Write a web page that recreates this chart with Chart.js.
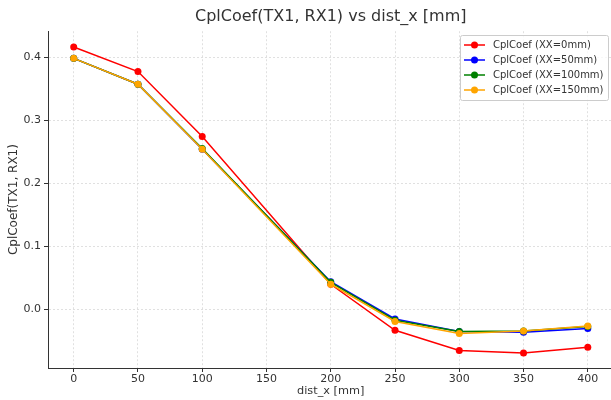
<!DOCTYPE html>
<html>
<head>
<meta charset="utf-8">
<script src="https://cdn.jsdelivr.net/npm/chart.js@4"></script>
<style>
    html, body {margin: 0; padding: 0; overflow: hidden; background: #fff;}
    #cplChart {display: block;}
</style>
</head>
<body>
<canvas id="cplChart" width="617" height="400" style="width:617px;height:400px"></canvas>
<script>
const distX = [0, 50, 100, 200, 250, 300, 350, 400]
const seriesLabels = ["CplCoef (XX=0mm)", "CplCoef (XX=50mm)", "CplCoef (XX=100mm)", "CplCoef (XX=150mm)"]
const xx0 = [0.416, 0.377, 0.274, 0.040, -0.033, -0.065, -0.069, -0.060]
const xx50 = [0.398, 0.357, 0.254, 0.044, -0.015, -0.035, -0.036, -0.030]
const xx100 = [0.398, 0.357, 0.255, 0.043, -0.017, -0.035, -0.034, -0.027]
const xx150 = [0.398, 0.357, 0.254, 0.040, -0.019, -0.038, -0.034, -0.026]
const xTicks = [0, 50, 100, 150, 200, 250, 300, 350, 400]
const yTicks = [0.0, 0.1, 0.2, 0.3, 0.4]
const colours = ["#ff0000", "#0000ff", "#008000", "#ffa500"]

const FONT = "'DejaVu Sans', sans-serif"

function toPoints(ys) {
    return distX.map((x, i) => ({x: x, y: ys[i]}))
}

function lineSet(label, col, data, order) {
    return {
        label: label,
        data: toPoints(data),
        borderColor: col,
        backgroundColor: col,
        borderWidth: 1.5,
        pointRadius: 3.5,
        pointHoverRadius: 3.5,
        pointBorderWidth: 0,
        tension: 0,
        order: order
    }
}

// matplotlib style legend box in the upper right of the plot
const boxLegend = {
    id: "boxLegend",
    afterDraw(chart) {
        const ctx = chart.ctx
        const sets = chart.data.datasets
        const x0 = 460, y0 = 35, w = 148, h = 65
        ctx.save()
        ctx.fillStyle = "rgba(255,255,255,0.8)"
        ctx.strokeStyle = "#cccccc"
        ctx.lineWidth = 1
        ctx.beginPath()
        ctx.roundRect(x0 + 0.5, y0 + 0.5, w, h, 2)
        ctx.fill()
        ctx.stroke()
        ctx.font = "10px " + FONT
        ctx.textBaseline = "middle"
        for (let i = 0; i < sets.length; i++) {
            const y = y0 + 10 + i * 15
            ctx.strokeStyle = sets[i].borderColor
            ctx.fillStyle = sets[i].borderColor
            ctx.lineWidth = 1.5
            ctx.beginPath()
            ctx.moveTo(x0 + 4, y)
            ctx.lineTo(x0 + 25, y)
            ctx.stroke()
            ctx.beginPath()
            ctx.arc(x0 + 14.5, y, 3.5, 0, Math.PI * 2)
            ctx.fill()
            ctx.fillStyle = "#333333"
            ctx.fillText(sets[i].label, x0 + 33, y)
        }
        ctx.restore()
    }
}

new Chart(document.getElementById("cplChart").getContext("2d"), {
    type: "line",
    data: {
        datasets: [
            lineSet(seriesLabels[0], colours[0], xx0, 3),
            lineSet(seriesLabels[1], colours[1], xx50, 2),
            lineSet(seriesLabels[2], colours[2], xx100, 1),
            lineSet(seriesLabels[3], colours[3], xx150, 0)
        ]
    },
    options: {
        responsive: false,
        maintainAspectRatio: false,
        animation: false,
        layout: {padding: 0},
        plugins: {
            legend: {display: false},
            tooltip: {enabled: false},
            title: {
                display: true,
                fullSize: false,
                text: "CplCoef(TX1, RX1) vs dist_x [mm]",
                color: "#333333",
                font: {family: FONT, size: 16, weight: "normal"},
                padding: {top: 7, bottom: 5}
            }
        },
        scales: {
            x: {
                type: "linear",
                min: -20,
                max: 420,
                afterBuildTicks: axis => { axis.ticks = xTicks.map(v => ({value: v})) },
                afterFit: axis => { axis.height = 32 },
                ticks: {color: "#333333", font: {family: FONT, size: 11}, padding: 1, maxRotation: 0},
                grid: {color: "#d9d9d9", lineWidth: 0.8, tickColor: "#333333", tickLength: 4, tickWidth: 1, tickBorderDash: []},
                border: {display: true, color: "#333333", width: 1, dash: [2, 2]},
                title: {display: true, text: "dist_x [mm]", color: "#333333", font: {family: FONT, size: 11.3}, padding: {top: 0, bottom: 2}}
            },
            y: {
                type: "linear",
                min: -0.0927,
                max: 0.441,
                afterBuildTicks: axis => { axis.ticks = yTicks.map(v => ({value: v})) },
                afterFit: axis => { axis.width = 48 },
                ticks: {color: "#333333", font: {family: FONT, size: 11}, padding: 3, callback: v => v.toFixed(1)},
                grid: {color: "#d9d9d9", lineWidth: 0.8, tickColor: "#333333", tickLength: 4, tickWidth: 1, tickBorderDash: []},
                border: {display: true, color: "#333333", width: 1, dash: [2, 2]},
                title: {display: true, text: "CplCoef(TX1, RX1)", color: "#333333", font: {family: FONT, size: 12}, padding: {top: 7, bottom: 0}}
            }
        }
    },
    plugins: [boxLegend]
})
</script>
</body>
</html>
